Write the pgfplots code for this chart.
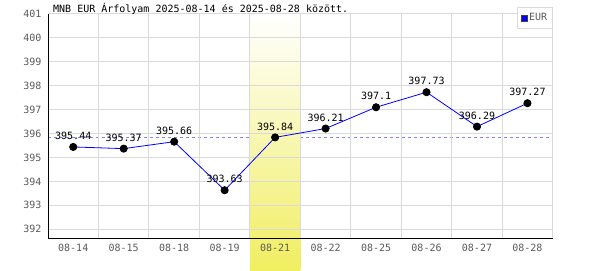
\documentclass[border=0pt]{standalone}
\usepackage{fontspec}
\setmainfont{DejaVu Sans Mono}
\usepackage{pgfplots}
\pgfplotsset{compat=1.18}
\pgfplotsset{layers/mylayers/.define layer set={axis background,axis grid,refline,highlight,axis ticks,axis lines,axis tick labels,pre main,main,axis descriptions,axis foreground}{}}
\definecolor{gridc}{RGB}{218,218,218}
\definecolor{tickc}{RGB}{90,90,90}
\definecolor{hl}{RGB}{240,238,96}
\definecolor{refc}{RGB}{130,130,255}
\newcommand\fs{\fontsize{10bp}{11bp}\selectfont}
\pgfplotstableread{
x y label
0 395.44 395.44
1 395.37 395.37
2 395.66 395.66
3 393.63 393.63
4 395.84 395.84
5 396.21 396.21
6 397.10 397.1
7 397.73 397.73
8 396.29 396.29
9 397.27 397.27
}\eurdata
\begin{document}
\begin{tikzpicture}
\begin{axis}[
 set layers=mylayers,
 scale only axis, width=504.7bp, height=224.3bp,
 xmin=-0.5, xmax=9.5, ymin=391.62, ymax=401,
 clip=false,
 axis lines*=left, axis line style={black, line width=1bp},
 xtick={0,...,9},
 xticklabels={08-14,08-15,08-18,08-19,08-21,08-22,08-25,08-26,08-27,08-28},
 ytick={392,...,401},
 minor xtick={-0.5,0.5,...,9.5},
 ymajorgrids, xminorgrids, xmajorgrids=false,
 grid style={gridc, line width=1bp},
 minor grid style={gridc, line width=1bp},
 major tick length=0pt, minor tick length=0pt,
 tick label style={font=\fs, text=tickc},
 /pgf/number format/assume math mode=true,
 yticklabel style={xshift=-3bp},
 xticklabel style={yshift=-2.5bp},
 legend style={at={(1,1)}, anchor=north east, yshift=7.3bp, draw=gridc, line width=1bp, font=\fs, text=tickc, inner xsep=3bp, inner ysep=4.5bp, /tikz/every even column/.append style={column sep=1bp}},
 legend cell align=left,
]
\addplot[forget plot, on layer=refline, refc, dash pattern=on 3bp off 3bp, line width=1bp] coordinates {(-0.5,395.83) (9.5,395.83)};
\addplot[forget plot, on layer=highlight, draw=none, top color=white, bottom color=hl] coordinates {(3.5,401) (4.5,401) (4.5,390.29) (3.5,390.29)} -- cycle;
\addplot[blue, line width=0.8bp, mark=*, mark size=3.6bp, mark options={black, fill=black, solid},
 point meta=explicit symbolic, nodes near coords,
 every node near coord/.style={anchor=base, yshift=7.3bp, font=\fs, text=black, inner sep=0pt},
 legend image code/.code={\filldraw[fill=blue, draw=black!75, line width=0.6bp] (0bp,-3bp) rectangle (6bp,3bp);}
] table[x=x, y=y, meta=label] {\eurdata};
\addlegendentry{EUR\hspace{6bp}}
\end{axis}
\node[anchor=base west, font=\fs, inner sep=0pt] at (5bp,225.3bp) {MNB EUR Árfolyam 2025-08-14 és 2025-08-28 között.};
\path (-48bp,-31.7bp) rectangle (552bp,238.3bp);
\end{tikzpicture}
\end{document}
